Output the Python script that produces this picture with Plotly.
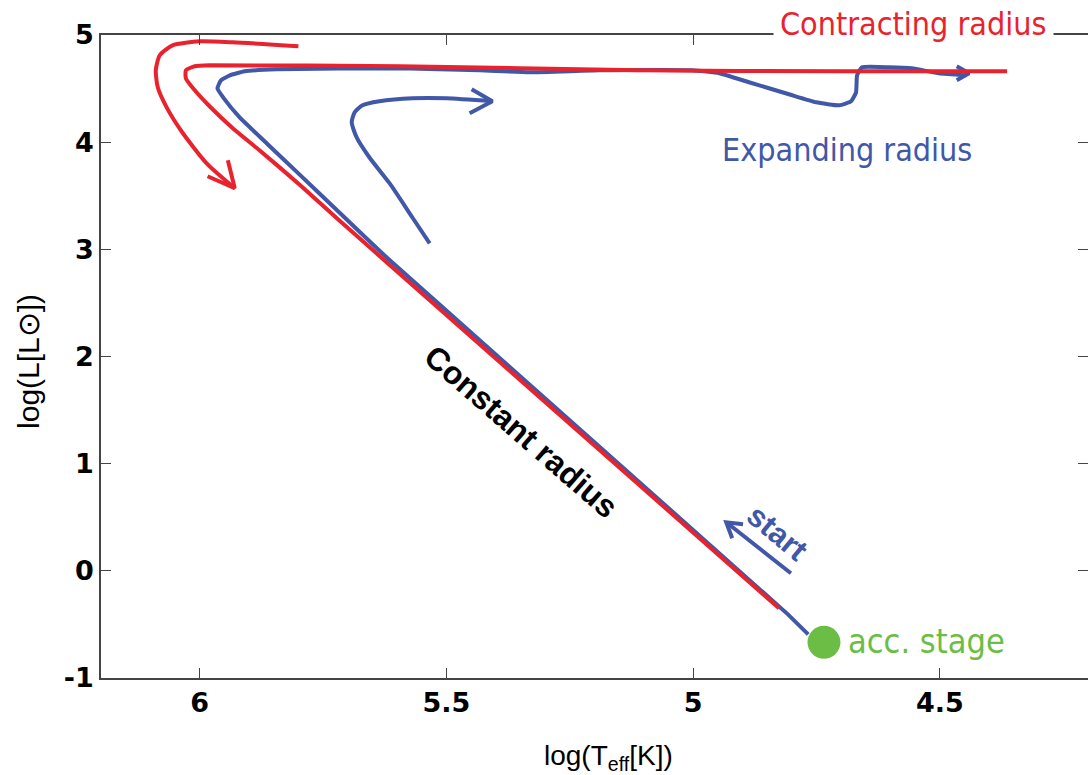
import plotly.graph_objects as go

# ---------------- data ----------------
# Contracting-radius track (red)
red_track_x = [4.826, 5.630, 5.717, 5.798, 5.879, 5.933, 5.980, 6.010, 6.028, 6.028, 6.010, 5.980,
               5.595, 5.109, 4.704, 4.364]
red_track_y = [-0.350, 2.915, 3.270, 3.606, 3.925, 4.130, 4.335, 4.484, 4.596, 4.671, 4.708, 4.717,
               4.708, 4.671, 4.661, 4.661]

# Expanding-radius track (blue)
blue_track_x = [4.767, 4.812, 5.621, 5.717, 5.798, 5.864, 5.919, 5.951, 5.964, 5.957, 5.939, 5.909, 5.844,
                5.595, 5.433, 5.332, 5.190, 5.002, 4.947, 4.887, 4.806, 4.751, 4.704, 4.680, 4.670, 4.668,
                4.658, 4.603, 4.557, 4.502, 4.447]
blue_track_y = [-0.593, -0.390, 2.924, 3.344, 3.699, 3.988, 4.231, 4.409, 4.502, 4.577, 4.624, 4.661, 4.680,
                4.689, 4.671, 4.652, 4.671, 4.671, 4.643, 4.559, 4.447, 4.372, 4.344, 4.381, 4.465, 4.624,
                4.699, 4.699, 4.689, 4.643, 4.624]
blue_tick_x = [4.466, 4.441, 4.466]
blue_tick_y = [4.708, 4.643, 4.577]

# hand-drawn blue hook arrow
hook_x = [5.534, 5.569, 5.615, 5.656, 5.682, 5.692, 5.686, 5.670, 5.636, 5.569, 5.500, 5.407]
hook_y = [3.055, 3.297, 3.615, 3.857, 4.044, 4.185, 4.279, 4.344, 4.381, 4.409, 4.409, 4.381]
hook_head_x = [5.449, 5.407, 5.453]
hook_head_y = [4.493, 4.381, 4.269]

# hand-drawn red arrow
red_arrow_x = [5.800, 5.933, 6.000, 6.055, 6.081, 6.089, 6.085, 6.067, 6.034, 5.986, 5.929]
red_arrow_y = [4.895, 4.932, 4.941, 4.904, 4.811, 4.671, 4.512, 4.325, 4.083, 3.803, 3.570]
red_head_x = [5.984, 5.929, 5.943]
red_head_y = [3.682, 3.570, 3.831]

# "start" arrow
start_x = [4.802, 4.933]
start_y = [-0.023, 0.453]
start_head_x = [4.899, 4.933, 4.921]
start_head_y = [0.434, 0.453, 0.304]

# accretion stage point
acc_x = [4.735]
acc_y = [-0.667]

x_ticks = [6, 5.5, 5, 4.5]
x_ticktext = ["6", "5.5", "5", "4.5"]
y_ticks = [5, 4, 3, 2, 1, 0, -1]
y_ticktext = ["5", "4", "3", "2", "1", "0", "-1"]

RED = "#E8232D"
BLUE = "#4157A8"
GREEN = "#6CBD45"
NARROW = "Liberation Sans Narrow, Arial Narrow, DejaVu Sans Condensed, Liberation Sans"
SANS = "Liberation Sans, Arial, Helvetica, sans-serif"
TICKF = "DejaVu Sans, Liberation Sans, Arial, sans-serif"

fig = go.Figure()

def line(x, y, color, shape="spline", smoothing=0.5):
    fig.add_trace(go.Scatter(x=x, y=y, mode="lines",
                             line=dict(color=color, width=4, shape=shape, smoothing=smoothing),
                             hoverinfo="skip", showlegend=False))

line(blue_track_x, blue_track_y, BLUE, smoothing=0.4)
line(blue_tick_x, blue_tick_y, BLUE, "linear")
line(hook_x, hook_y, BLUE, smoothing=0.6)
line(hook_head_x, hook_head_y, BLUE, "linear")
line(start_x, start_y, BLUE, "linear")
line(start_head_x, start_head_y, BLUE, "linear")
line(red_track_x, red_track_y, RED, smoothing=0.5)
line(red_arrow_x, red_arrow_y, RED, smoothing=0.6)
line(red_head_x, red_head_y, RED, "linear")

fig.add_trace(go.Scatter(x=acc_x, y=acc_y, mode="markers", yaxis="y2",
                         marker=dict(color=GREEN, size=33, line=dict(width=0)),
                         hoverinfo="skip", showlegend=False))

axis_common = dict(showgrid=False, zeroline=False, ticks="inside", ticklen=10,
                   tickcolor="#444", tickwidth=1.2)

fig.update_layout(
    width=1088, height=775,
    margin=dict(l=101, r=0, t=35, b=97),
    paper_bgcolor="white", plot_bgcolor="white",
    xaxis=dict(range=[6.2, 4.2], tickvals=x_ticks, ticktext=x_ticktext,
               showline=True, linecolor="#444", linewidth=1.5, mirror="ticks",
               tickfont=dict(family=TICKF, size=27, color="black", weight="bold"),
               **axis_common),
    yaxis=dict(range=[-1, 5], tickvals=y_ticks, ticktext=y_ticktext,
               showline=True, linecolor="#444", linewidth=1.5,
               tickfont=dict(family=TICKF, size=27, color="black", weight="bold"),
               **axis_common),
    yaxis2=dict(range=[-1, 5], overlaying="y", side="right", tickvals=y_ticks,
                showticklabels=False, showline=False, **axis_common),
)

ann = []
ann.append(dict(x=0.8237, y=1.0171, xref="paper", yref="paper", text="Contracting radius", showarrow=False,
                font=dict(family=NARROW, size=32, color=RED), bgcolor="white", borderpad=6,
                xanchor="center", yanchor="middle"))
ann.append(dict(x=4.688, y=3.924, xref="x", yref="y", text="Expanding radius", showarrow=False,
                font=dict(family=NARROW, size=32, color=BLUE), xanchor="center", yanchor="middle"))
ann.append(dict(x=4.690, y=-0.657, xref="x", yref="y", text="acc. stage", showarrow=False,
                font=dict(family=NARROW, size=34, color=GREEN), xanchor="left", yanchor="middle"))
ann.append(dict(x=5.348, y=1.293, xref="x", yref="y", text="Constant radius", showarrow=False,
                textangle=41, font=dict(family=SANS, size=32, color="black", weight="bold"),
                xanchor="center", yanchor="middle"))
ann.append(dict(x=4.830, y=0.360, xref="x", yref="y", text="start", showarrow=False,
                textangle=40, font=dict(family=SANS, size=31, color=BLUE, weight="bold"),
                xanchor="center", yanchor="middle"))
ann.append(dict(x=0.5137, y=-0.1229, xref="paper", yref="paper", text="log(T<sub>eff</sub>[K])",
                showarrow=False, font=dict(family=SANS, size=28, color="black"),
                xanchor="center", yanchor="middle"))
ann.append(dict(x=-0.074, y=0.493, xref="paper", yref="paper", text="log(L[L\u2299])", showarrow=False,
                textangle=-90, font=dict(family=SANS, size=30, color="black"),
                xanchor="center", yanchor="middle"))
fig.update_layout(annotations=ann)

fig.write_html("out.html")
